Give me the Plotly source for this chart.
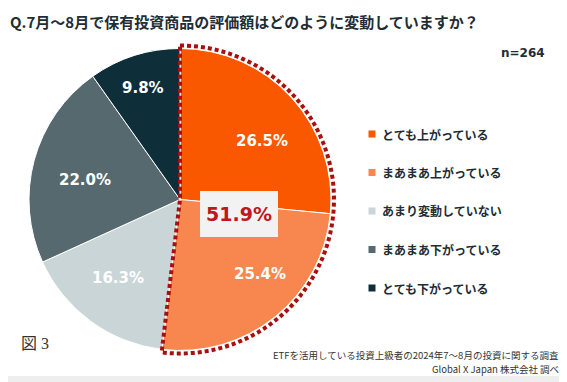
import math
import plotly.graph_objects as go

# ---- data ----
categories = ["とても上がっている", "まあまあ上がっている", "あまり変動していない",
              "まあまあ下がっている", "とても下がっている"]
values = [26.5, 25.4, 16.3, 22.0, 9.8]
highlight_total = 51.9  # とても上がっている + まあまあ上がっている
title_text = "Q.7月～8月で保有投資商品の評価額はどのように変動していますか？"
sample_text = "n=264"
fig_label = "図 3"
source_lines = ["ETFを活用している投資上級者の2024年7～8月の投資に関する調査",
                "Global X Japan 株式会社 調べ"]

# ---- styles / layout ----
colors = ["#F95700", "#F7874E", "#C9D5D7", "#56696E", "#0E2F3A"]
label_radius = [0.667, 0.722, 0.662, 0.642, 0.778]      # fraction of pie radius
label_angle_shift = [6.8, -8.1, 2.1, -3.5, -0.8]       # degrees from slice mid-angle
OFF = 8                      # page body margin
W, H = 567 - OFF, 382 - OFF  # figure size
CX, CY, R = 180.0, 199.5, 151.0   # pie centre / radius in page pixels
TEXT_DARK = "#1F2D35"
JP = "Noto Sans CJK JP"


def px(x):
    return (x - OFF) / W


def py(y):
    return 1 - (y - OFF) / H


def note(x, y, text, font, xanchor="center", **kw):
    d = dict(xref="paper", yref="paper", x=px(x), y=py(y), text=text, showarrow=False,
             xanchor=xanchor, yanchor="middle", font=font)
    d.update(kw)
    return d


fig = go.Figure()
fig.add_trace(go.Pie(
    labels=categories, values=values, sort=False, direction="clockwise",
    rotation=0, marker=dict(colors=colors, line=dict(color="#FFFFFF", width=1)),
    textinfo="none",
    domain=dict(x=[px(CX - R), px(CX + R)], y=[py(CY + R), py(CY - R)]),
    showlegend=False, hoverinfo="label+percent",
))

shapes = []
annotations = []

# light grey strip at the bottom of the panel
shapes.append(dict(type="rect", xref="paper", yref="paper", x0=0, x1=1, y0=0, y1=py(376),
                   fillcolor="#EEEEEE", line=dict(width=0), layer="below"))

# slice labels placed from the data (mid-angle of each slice)
total = sum(values)
cum = 0.0
for v, rf, da in zip(values, label_radius, label_angle_shift):
    mid = (cum + v / 2) / total * 360 + da
    cum += v
    a = math.radians(mid)
    x = CX + R * rf * math.sin(a)
    y = CY - R * rf * math.cos(a)
    annotations.append(note(x, y, "{:.1f}%".format(v),
                            dict(family="DejaVu Sans", size=15, color="#FFFFFF", weight="bold")))

# dotted outline around the "up" share, computed from the data
Ro = R + 3
frac = highlight_total / 100.0
n = 80
path = "M {:.5f},{:.5f} ".format(px(CX), py(CY - Ro))
for i in range(n + 1):
    a = 2 * math.pi * frac * i / n  # clockwise from top
    path += "L {:.5f},{:.5f} ".format(px(CX + Ro * math.sin(a)), py(CY - Ro * math.cos(a)))
path += "L {:.5f},{:.5f} Z".format(px(CX), py(CY))
shapes.append(dict(type="path", xref="paper", yref="paper", path=path,
                   line=dict(color="#A8100F", width=4, dash="4px,3px"), layer="above"))

# total label
annotations.append(note(239, 214, "{:.1f}%".format(highlight_total),
                        dict(family="DejaVu Sans", size=19, color="#C0161C", weight="bold"),
                        width=78, height=46, borderpad=0, borderwidth=0, bgcolor="#F2F2F2"))

# title, n, footnotes
annotations.append(note(8, 21, title_text,
                        dict(family=JP, size=15, color=TEXT_DARK, weight="bold"), xanchor="left"))
annotations.append(note(547, 53, sample_text,
                        dict(family="DejaVu Sans", size=12, color=TEXT_DARK, weight="bold"),
                        xanchor="right"))
annotations.append(note(19, 343, fig_label,
                        dict(family="Liberation Serif, Noto Sans CJK JP", size=16, color="#333333"),
                        xanchor="left"))
for i, line in enumerate(source_lines):
    annotations.append(note(561, 355 + 13.5 * i, line,
                            dict(family=JP, size=9.5, color="#333333"), xanchor="right"))

# custom legend
LX, LY0, LDY = 372, 134, 38.5
for i, (cat, col) in enumerate(zip(categories, colors)):
    yc = LY0 + LDY * i
    shapes.append(dict(type="rect", xref="paper", yref="paper",
                       x0=px(LX - 3.5), x1=px(LX + 3.5), y0=py(yc + 3.5), y1=py(yc - 3.5),
                       fillcolor=col, line=dict(width=0), layer="above"))
    annotations.append(note(380, yc, cat,
                            dict(family=JP, size=12, color=TEXT_DARK, weight="bold"),
                            xanchor="left"))

fig.update_layout(width=W, height=H, margin=dict(l=0, r=0, t=0, b=0),
                  paper_bgcolor="#FFFFFF", plot_bgcolor="rgba(0,0,0,0)",
                  shapes=shapes, annotations=annotations, showlegend=False)
fig.write_html("out.html")
